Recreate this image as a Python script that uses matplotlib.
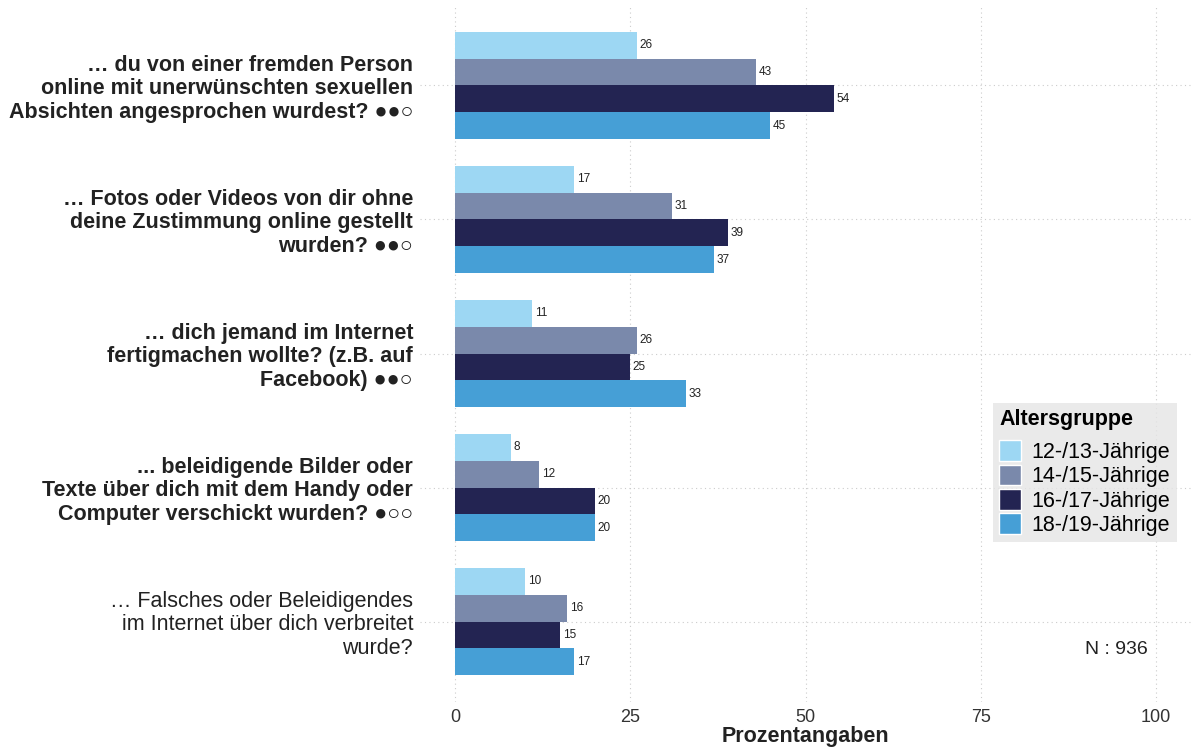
import matplotlib.pyplot as plt
import numpy as np
from matplotlib.patches import Patch

plt.rcParams["font.family"] = ["Liberation Sans", "DejaVu Sans"]
plt.rcParams["font.stretch"] = "normal"

questions = [
    "… du von einer fremden Person\nonline mit unerwünschten sexuellen\nAbsichten angesprochen wurdest? ●●○",
    "… Fotos oder Videos von dir ohne\ndeine Zustimmung online gestellt\nwurden? ●●○",
    "… dich jemand im Internet\nfertigmachen wollte? (z.B. auf\nFacebook) ●●○",
    "... beleidigende Bilder oder\nTexte über dich mit dem Handy oder\nComputer verschickt wurden? ●○○",
    "… Falsches oder Beleidigendes\nim Internet über dich verbreitet\nwurde?",
]
bold_labels = [True, True, True, True, False]

groups = ["12-/13-Jährige", "14-/15-Jährige", "16-/17-Jährige", "18-/19-Jährige"]
colors = ["#9dd7f3", "#7a89ab", "#232452", "#469fd6"]

age_12_13 = [26, 17, 11, 8, 10]
age_14_15 = [43, 31, 26, 12, 16]
age_16_17 = [54, 39, 25, 20, 15]
age_18_19 = [45, 37, 33, 20, 17]
series = [age_12_13, age_14_15, age_16_17, age_18_19]

fig = plt.figure(figsize=(11.92, 7.48), dpi=100)
ax = fig.add_axes([420 / 1192, 46 / 748, 771 / 1192, 697 / 748])

y = np.arange(len(questions))
h = 0.2
for i, (vals, col) in enumerate(zip(series, colors)):
    pos = y + (i - 1.5) * h
    ax.barh(pos, vals, height=h, color=col, zorder=2)
    for p, v in zip(pos, vals):
        ax.text(v + 0.35, p, str(v), va="center", ha="left", fontsize=8.5, color="#222222")

ax.set_xlim(-5, 105)
ax.set_ylim(len(questions) - 0.4, -0.6)
ax.set_xticks([0, 25, 50, 75, 100])
ax.set_yticks(y)
ax.set_yticklabels([])
# question labels drawn as text so line spacing and weight can be set per label
trans = ax.get_yaxis_transform()
for yi, q, b in zip(y, questions, bold_labels):
    ax.text(-0.009, yi + 0.025, q, transform=trans, ha="right", va="center", multialignment="right",
            fontsize=15.5, fontweight="bold" if b else "normal", linespacing=1.17,
            color="#222222", clip_on=False)
ax.tick_params(axis="x", labelsize=13, length=0, pad=5, labelcolor="#333333")
ax.tick_params(axis="y", length=0)
ax.grid(True, linestyle=(0, (1, 3)), color="#cccccc", linewidth=0.8, zorder=0)
for s in ax.spines.values():
    s.set_visible(False)
ax.set_xlabel("Prozentangaben", fontsize=15.5, fontweight="bold", labelpad=0, color="#222222")

handles = [Patch(facecolor=c, edgecolor="white", linewidth=1) for c in colors]
leg = fig.legend(
    handles, groups, title="Altersgruppe", loc="upper left",
    bbox_to_anchor=(993 / 1192, 1 - 403 / 748), fontsize=15.5, title_fontsize=15.5,
    frameon=True, facecolor="#e5e5e5", edgecolor="none", fancybox=False,
    handlelength=1.0, handleheight=1.1, handletextpad=0.5, labelspacing=0.08,
    borderpad=0.3, borderaxespad=0,
)
leg.get_title().set_fontweight("bold")
leg._legend_box.align = "left"
leg._legend_box.sep = 7

fig.text(1116 / 1192, 1 - 650 / 748, "N : 936", fontsize=14, ha="center", va="center", color="#222222")

fig.savefig("out.png", dpi=100)
